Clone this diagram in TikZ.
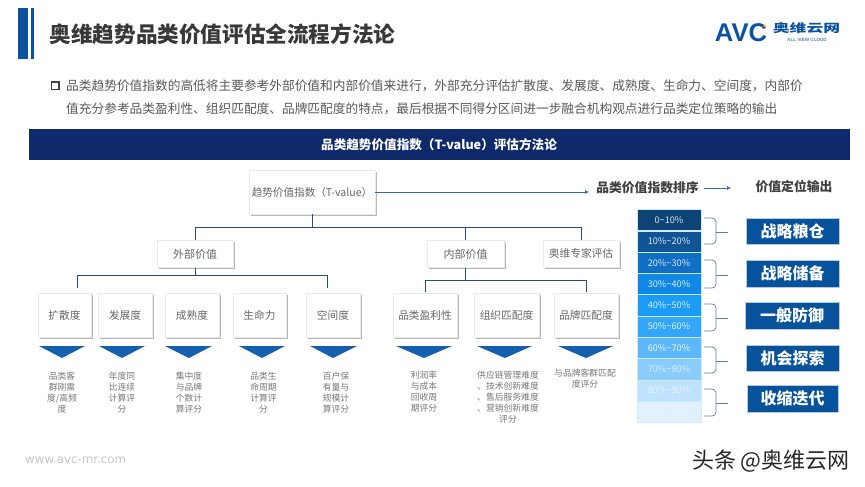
\documentclass[tikz,border=0pt]{standalone}
\usepackage{fontspec}
\setmainfont{Noto Sans CJK SC}
\newfontfamily\logofont{Liberation Sans}
\newfontfamily\webfont{DejaVu Sans}
\usetikzlibrary{arrows.meta,shadows,calc}
\definecolor{navy}{HTML}{0F2A6B}
\definecolor{barblue}{HTML}{0B52A0}
\definecolor{triblue}{HTML}{1560AE}
\definecolor{outblue}{HTML}{06529B}
\definecolor{connblue}{HTML}{2A4A80}
\definecolor{arrowblue}{HTML}{2F6EA5}
\definecolor{bodygray}{HTML}{595959}
\definecolor{labelgray}{HTML}{777777}
\definecolor{cardgray}{HTML}{666666}
\definecolor{braceblue}{HTML}{5F7F9F}
\definecolor{rowa}{HTML}{0D4475}
\definecolor{rowb}{HTML}{0F5596}
\definecolor{rowc}{HTML}{0F6FC4}
\definecolor{rowd}{HTML}{1089E6}
\definecolor{rowe}{HTML}{1A9BF5}
\definecolor{rowf}{HTML}{33A6F9}
\definecolor{rowg}{HTML}{5CB8FB}
\definecolor{rowh}{HTML}{8ACCFC}
\definecolor{rowi}{HTML}{BFE2FD}
\definecolor{rowj}{HTML}{E0F1FD}
\tikzset{
  cardbox/.style={draw=black!8,line width=.4pt,fill=white,inner sep=0pt,text=cardgray,
    font=\fontsize{10.7}{12}\selectfont,
    drop shadow={shadow xshift=1.5pt,shadow yshift=-1.5pt,fill=black!40,opacity=.7}},
  connline/.style={draw=connblue,line width=.7pt},
  thinarrow/.style={draw=arrowblue,line width=.6pt,-{Latex[length=4pt,width=4pt]}},
  tritip/.style={fill=triblue,draw=none},
  minilabel/.style={text=labelgray,font=\fontsize{8.8}{10.9}\selectfont,align=center,inner sep=0pt},
  bodyline/.style={anchor=west,inner sep=0pt,text=bodygray,font=\fontsize{12.7}{14}\selectfont},
  headlabel/.style={inner sep=0pt,text=black!75,font=\fontsize{12.8}{14}\selectfont\bfseries},
  rowcell/.style={minimum width=64pt,minimum height=21.3pt,inner sep=0pt,draw=white!70!rowg,line width=.4pt,
    font=\fontsize{9.2}{10}\selectfont},
  outbox/.style={fill=outblue,draw=white!70!outblue,line width=.3pt,text=white,inner sep=0pt,
    font=\fontsize{16}{18}\selectfont\bfseries},
  bracel/.style={draw=braceblue,line width=.7pt,rounded corners=4pt}
}
\newcommand{\tritri}[3]{\fill[tritip] (#1,346) -- (#3,346) -- (#2,358) -- cycle;}
\newcommand{\bracket}[3]{\draw[bracel] (704,#1) -- (716,#1) -- (716,#2) -- (716,#3) -- (704,#3);
  \draw[bracel,rounded corners=0pt] (716,#2) -- (728,#2);}
\begin{document}
\begin{tikzpicture}[x=1pt,y=-1pt]
\useasboundingbox (0,0) rectangle (865,487);
\fill[white] (0,0) rectangle (865,487);
% title
\fill[barblue] (17.5,8) rectangle (28,59);
\fill[barblue] (30.5,8) rectangle (33.5,59);
\node[anchor=west,inner sep=0pt,text=black!78,font=\fontsize{21.6}{24}\selectfont\bfseries] (title) at (49.5,34) {奥维趋势品类价值评估全流程方法论};
% logo
\node[inner sep=0pt,text=barblue,font=\logofont\fontsize{25.6}{26}\selectfont\bfseries] (logoa) at (741,33) {AVC};
\fill[orange] (764,26) circle (1.5);
\node[inner sep=0pt,text=barblue,font=\fontsize{11.5}{12}\selectfont\bfseries] (logob) at (806.5,28.5) {\scalebox{1.46}[1]{奥维云网}};
\node[inner sep=0pt,text=barblue!70,font=\logofont\fontsize{4.6}{5}\selectfont\bfseries] (logoc) at (807,39.5) {ALL VIEW CLOUD};
% intro
\draw[black!75,line width=1.5pt] (51.5,82) rectangle (59,89.5);
\node[bodyline] (introa) at (66,86) {品类趋势价值指数的高低将主要参考外部价值和内部价值来进行，外部充分评估扩散度、发展度、成熟度、生命力、空间度，内部价};
\node[bodyline] (introb) at (66,109) {值充分参考品类盈利性、组织匹配度、品牌匹配度的特点，最后根据不同得分区间进一步融合机构观点进行品类定位策略的输出};
% band
\fill[navy] (29,129) rectangle (850,160);
\node[inner sep=0pt,text=white,font=\fontsize{12.6}{14}\selectfont\bfseries] (band) at (439,145) {品类趋势价值指数（T-value）评估方法论};
% cards
\node[cardbox,minimum width=126pt,minimum height=44pt,font=\fontsize{10.6}{12}\selectfont] (main) at (312,192) {趋势价值指数（T-value）};
\node[cardbox,minimum width=76pt,minimum height=27pt,font=\fontsize{11}{12}\selectfont] (wai) at (195,254) {外部价值};
\node[cardbox,minimum width=77pt,minimum height=27pt,font=\fontsize{11}{12}\selectfont] (nei) at (465.5,254) {内部价值};
\node[cardbox,minimum width=76pt,minimum height=27pt] (exp) at (581,253.5) {奥维专家评估};
\node[cardbox,minimum width=53pt,minimum height=44pt] (kuo) at (64.5,315) {扩散度};
\node[cardbox,minimum width=54pt,minimum height=44pt] (fa) at (125,315) {发展度};
\node[cardbox,minimum width=54pt,minimum height=44pt] (cheng) at (192,315) {成熟度};
\node[cardbox,minimum width=53pt,minimum height=44pt] (sheng) at (259.5,315) {生命力};
\node[cardbox,minimum width=54pt,minimum height=44pt] (kong) at (333,315) {空间度};
\node[cardbox,minimum width=64pt,minimum height=44pt] (ying) at (425,315) {品类盈利性};
\node[cardbox,minimum width=65pt,minimum height=44pt] (zu) at (506.5,315) {组织匹配度};
\node[cardbox,minimum width=64pt,minimum height=44pt] (pin) at (586,315) {品牌匹配度};
% connectors
\coordinate (hubtop) at (312,227);
\coordinate (hubwai) at (195,275.5);
\coordinate (hubnei) at (465.5,280);
\draw[connline] (main.south) -- (hubtop);
\draw[connline] (hubtop) -| (wai.north);
\draw[connline] (hubtop) -| (nei.north);
\draw[connline] (hubtop) -| (exp.north);
\draw[connline] (wai.south) -- (hubwai);
\draw[connline] (hubwai) -| ([xshift=12.5pt,yshift=5pt]kuo.north);
\draw[connline] (hubwai) -| ([xshift=-6pt,yshift=5pt]kong.north);
\draw[connline] (nei.south) -- (hubnei);
\draw[connline] (hubnei) -| ([yshift=1pt]ying.north);
\draw[connline] (hubnei) -| ([yshift=1pt]pin.north);
% triangles
\tritri{39}{62}{85}
\tritri{99}{122}{145}
\tritri{165}{189}{212}
\tritri{239}{262}{285}
\tritri{310}{333}{357}
\tritri{396}{424}{452}
\tritri{477}{505}{532}
\tritri{558}{586}{613}
% descriptions
\node[minilabel] (da) at (62,392.5) {品类客\\群刚需\\度/高频\\度};
\node[minilabel] (db) at (122,392.5) {年度同\\比连续\\计算评\\分};
\node[minilabel] (dc) at (189,392.5) {集中度\\与品牌\\个数计\\算评分};
\node[minilabel] (dd) at (263.5,392.5) {品类生\\命周期\\计算评\\分};
\node[minilabel] (de) at (336,392.5) {百户保\\有量与\\规模计\\算评分};
\node[minilabel] (df) at (424,391.5) {利润率\\与成本\\回收周\\期评分};
\node[minilabel] (dg) at (508,397) {供应链管理难度\\、技术创新难度\\、售后服务难度\\、营销创新难度\\评分};
\node[minilabel] (dh) at (585,378.5) {与品牌客群匹配\\度评分};
% top right
\node[headlabel] (sort) at (647.5,188) {品类价值指数排序};
\node[headlabel] (val) at (794,187) {价值定位输出};
\coordinate (sortin) at (589,192);
\coordinate (valin) at (731,188);
\draw[thinarrow] (main.east) -- (sortin);
\draw[thinarrow] (sort.east) ++(5,0) -- (valin);
% stack
\node[rowcell,fill=rowa,text=white!85!rowa] (ra) at (669,220) {0\textasciitilde 10\%};
\node[rowcell,fill=rowb,text=white!85!rowb] (rb) at (669,241.4) {10\%\textasciitilde 20\%};
\node[rowcell,fill=rowc,text=white!85!rowc] (rc) at (669,262.7) {20\%\textasciitilde 30\%};
\node[rowcell,fill=rowd,text=white!85!rowd] (rd) at (669,284) {30\%\textasciitilde 40\%};
\node[rowcell,fill=rowe,text=white!85!rowe] (re) at (669,305.3) {40\%\textasciitilde 50\%};
\node[rowcell,fill=rowf,text=white!85!rowf] (rf) at (669,326.6) {50\%\textasciitilde 60\%};
\node[rowcell,fill=rowg,text=white!85!rowg] (rg) at (669,347.9) {60\%\textasciitilde 70\%};
\node[rowcell,fill=rowh,text=white!70!rowh] (rh) at (669,369.2) {70\%\textasciitilde 80\%};
\node[rowcell,fill=rowi,text=white!60!rowi] (ri) at (669,390.5) {80\%\textasciitilde 90\%};
\node[rowcell,fill=rowj,text=white!25!rowj] (rj) at (669,411.8) {90\%\textasciitilde 100\%};
% braces
\bracket{218}{232}{244}
\bracket{260}{275}{288}
\bracket{304}{318}{331}
\bracket{347}{361}{373}
\bracket{389}{403}{416}
% outputs
\node[outbox,minimum width=93pt,minimum height=26pt] (oa) at (792.5,231) {战略粮仓};
\node[outbox,minimum width=93pt,minimum height=27pt] (ob) at (792.5,273.5) {战略储备};
\node[outbox,minimum width=94pt,minimum height=27pt] (oc) at (792,315.5) {一般防御};
\node[outbox,minimum width=93pt,minimum height=26pt] (od) at (792.5,358) {机会探索};
\node[outbox,minimum width=91pt,minimum height=27pt] (oe) at (792.5,398.5) {收缩迭代};
% footer
\node[anchor=west,inner sep=0pt,text=black!22,font=\webfont\fontsize{11.8}{13}\selectfont] (web) at (25,460) {www.avc-mr.com};
\node[anchor=east,inner sep=0pt,text=black!85,font=\fontsize{22}{24}\selectfont] (mark) at (850,461) {头条 @奥维云网};
\end{tikzpicture}
\end{document}
